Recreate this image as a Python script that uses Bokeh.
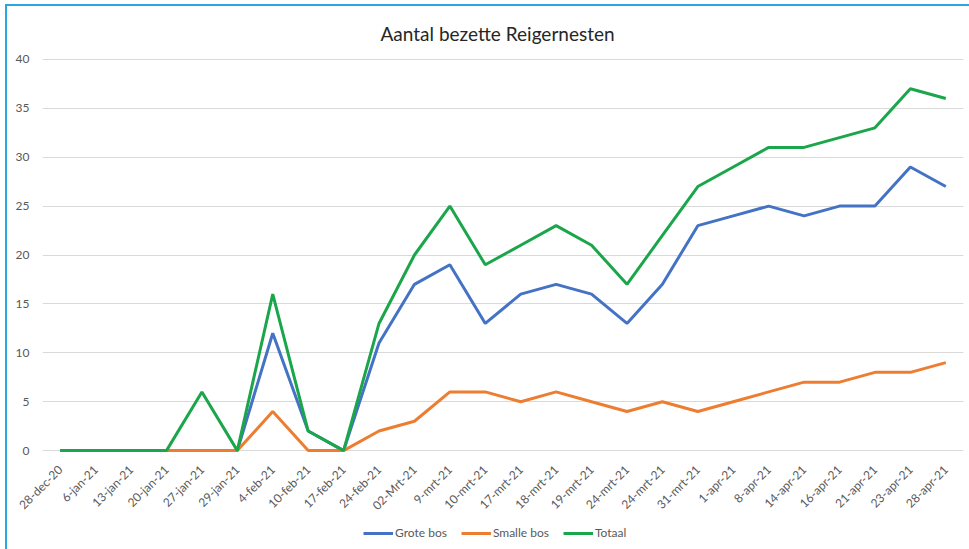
import math
from bokeh.plotting import figure
from bokeh.layouts import column
from bokeh.models import Range1d, FixedTicker, Legend, LegendItem
from bokeh.embed import file_html
from bokeh.resources import INLINE

dates = ["28-dec-20", "6-jan-21", "13-jan-21", "20-jan-21", "27-jan-21", "29-jan-21",
         "4-feb-21", "10-feb-21", "17-feb-21", "24-feb-21", "02-Mrt-21", "9-mrt-21",
         "10-mrt-21", "17-mrt-21", "18-mrt-21", "19-mrt-21", "24-mrt-21", "24-mrt-21",
         "31-mrt-21", "1-apr-21", "8-apr-21", "14-apr-21", "16-apr-21", "21-apr-21",
         "23-apr-21", "28-apr-21"]
grote_bos = [0, 0, 0, 0, 0, 0, 12, 2, 0, 11, 17, 19, 13, 16, 17, 16, 13, 17, 23, 24, 25, 24, 25, 25, 29, 27]
smalle_bos = [None, None, None, 0, 0, 0, 4, 0, 0, 2, 3, 6, 6, 5, 6, 5, 4, 5, 4, 5, 6, 7, 7, 8, 8, 9]
totaal = [0, 0, 0, 0, 6, 0, 16, 2, 0, 13, 20, 25, 19, 21, 23, 21, 17, 22, 27, 29, 31, 31, 32, 33, 37, 36]
y_ticks = [0, 5, 10, 15, 20, 25, 30, 35, 40]
series_names = ["Grote bos", "Smalle bos", "Totaal"]
series_colors = ["#4472C4", "#ED7D31", "#1BA64B"]

FONT = "Lato"
GRAY = "#595959"

xs = list(range(len(dates)))
sm_x = [x for x, v in zip(xs, smalle_bos) if v is not None]
sm_y = [v for v in smalle_bos if v is not None]
series = [(xs, grote_bos), (sm_x, sm_y), (xs, totaal)]

p = figure(width=962, height=515, output_backend="svg", toolbar_location=None,
           x_range=Range1d(-0.5, len(dates) - 0.5), y_range=Range1d(-0.5, 40.5),
           min_border_left=35, min_border_right=6, min_border_top=48, min_border_bottom=66)

p.title.text = "Aantal bezette Reigernesten"
p.title.align = "left"
p.title.offset = 338
p.title.standoff = 20
p.title.text_font = FONT
p.title.text_font_size = "19px"
p.title.text_font_style = "normal"
p.title.text_color = "#262626"

p.outline_line_color = None
p.background_fill_color = "white"
p.border_fill_color = "white"

p.xgrid.grid_line_color = None
p.ygrid.grid_line_color = "#d9d9d9"
p.ygrid.grid_line_width = 1.2
p.yaxis.ticker = FixedTicker(ticks=y_ticks)
p.xaxis.ticker = FixedTicker(ticks=xs)
p.xaxis.major_label_overrides = {i: d for i, d in enumerate(dates)}
p.xaxis.major_label_orientation = math.pi / 4

for ax in (p.xaxis, p.yaxis):
    ax.axis_line_color = None
    ax.major_tick_line_color = None
    ax.minor_tick_line_color = None
    ax.major_label_text_font = FONT
    ax.major_label_text_color = GRAY
    ax.major_label_text_font_size = "12px"
p.xaxis.major_label_standoff = 6
p.yaxis.major_label_standoff = 7

for (sx, sy), col in zip(series, series_colors):
    p.line(sx, sy, line_color=col, line_width=3)

# legend strip below the chart (its lines are kept outside the strip's visible range)
lg = figure(width=962, height=28, output_backend="svg", toolbar_location=None,
            x_range=Range1d(-1000, -999), y_range=Range1d(-1000, -999),
            min_border_left=0, min_border_right=0, min_border_top=0, min_border_bottom=0)
lg.axis.visible = False
lg.grid.visible = False
lg.outline_line_color = None
lg.border_fill_color = "white"
lg.background_fill_color = "white"
items = []
for name, (sx, sy), col in zip(series_names, series, series_colors):
    r = lg.line(sx, sy, line_color=col, line_width=3)
    items.append(LegendItem(label=name, renderers=[r]))
legend = Legend(items=items, orientation="horizontal", location=(321, 9),
                label_text_font=FONT, label_text_font_size="12px", label_text_color=GRAY,
                glyph_width=30, glyph_height=12, label_standoff=2, spacing=14,
                border_line_color=None, background_fill_alpha=0, padding=2, margin=0)
lg.add_layout(legend, "center")

layout = column(p, lg, spacing=0)
layout.styles = {"margin-left": "5px", "margin-top": "4px",
                 "border-left": "2px solid #2aa7e2", "border-top": "2px solid #2aa7e2"}

open("out.html", "w").write(file_html(layout, INLINE))
